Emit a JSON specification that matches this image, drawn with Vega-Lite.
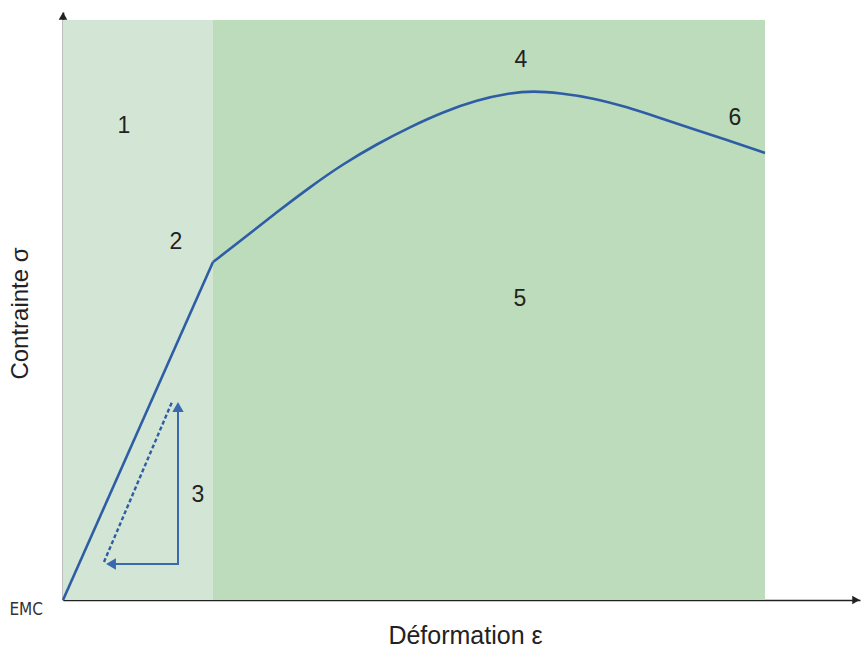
{
  "$schema": "https://vega.github.io/schema/vega-lite/v6.json",
  "width": 797,
  "height": 588,
  "autosize": {"type": "none"},
  "padding": {"left": 63, "top": 12, "right": 2, "bottom": 56},
  "background": "white",
  "config": {"view": {"stroke": null}},
  "encoding": {
    "x": {"type": "quantitative", "scale": {"domain": [0, 797], "nice": false, "zero": false}},
    "y": {"type": "quantitative", "scale": {"domain": [0, 588], "nice": false, "zero": false}}
  },
  "layer": [
    {
      "data": {"values": [
        {"x0": 0, "x1": 150, "y0": 0, "y1": 580, "zone": "light"},
        {"x0": 150, "x1": 702, "y0": 0, "y1": 580, "zone": "dark"}
      ]},
      "mark": {"type": "rect"},
      "encoding": {
        "x": {"field": "x0", "type": "quantitative", "axis": {"domain": true, "domainColor": "#222", "domainWidth": 1.6, "ticks": false, "labels": false, "grid": false, "title": "Déformation ε", "titleFont": "Liberation Sans", "titleFontSize": 25, "titleFontWeight": "normal", "titleColor": "#222", "titlePadding": 23, "titleX": 402}},
        "x2": {"field": "x1"},
        "y": {"field": "y0", "type": "quantitative", "axis": {"domain": true, "domainColor": "#222", "domainWidth": 1.6, "ticks": false, "labels": false, "grid": false, "title": "Contrainte σ", "titleFont": "Liberation Sans", "titleFontSize": 24, "titleFontWeight": "normal", "titleColor": "#222", "titlePadding": 31, "titleY": 301}},
        "y2": {"field": "y1"},
        "color": {"field": "zone", "type": "nominal", "scale": {"domain": ["light", "dark"], "range": ["#d3e6d5", "#bddcbb"]}, "legend": null}
      }
    },
    {
      "data": {"values": [{"x": 0, "y": 584}]},
      "mark": {"type": "point", "shape": "triangle-up", "filled": true, "color": "#222", "opacity": 1, "size": 75},
      "encoding": {
        "x": {"field": "x", "type": "quantitative"},
        "y": {"field": "y", "type": "quantitative"}
      }
    },
    {
      "data": {"values": [{"x": 793, "y": 0}]},
      "mark": {"type": "point", "shape": "triangle-right", "filled": true, "color": "#222", "opacity": 1, "size": 75},
      "encoding": {
        "x": {"field": "x", "type": "quantitative"},
        "y": {"field": "y", "type": "quantitative"}
      }
    },
    {
      "data": {"values": [
        {"part": "a", "x": 0, "y": 0},
        {"part": "a", "x": 150, "y": 338},
        {"part": "b", "x": 150, "y": 338},
        {"part": "b", "x": 180, "y": 361},
        {"part": "b", "x": 214, "y": 388},
        {"part": "b", "x": 247, "y": 413},
        {"part": "b", "x": 280, "y": 436},
        {"part": "b", "x": 314, "y": 456},
        {"part": "b", "x": 347, "y": 473},
        {"part": "b", "x": 380, "y": 488},
        {"part": "b", "x": 414, "y": 500},
        {"part": "b", "x": 447, "y": 507},
        {"part": "b", "x": 470, "y": 509},
        {"part": "b", "x": 497, "y": 507},
        {"part": "b", "x": 530, "y": 502},
        {"part": "b", "x": 564, "y": 493},
        {"part": "b", "x": 597, "y": 482},
        {"part": "b", "x": 630, "y": 471},
        {"part": "b", "x": 664, "y": 460},
        {"part": "b", "x": 702, "y": 447}
      ]},
      "mark": {"type": "line", "interpolate": "basis", "color": "#2e5da6", "strokeWidth": 2.6},
      "encoding": {
        "x": {"field": "x", "type": "quantitative"},
        "y": {"field": "y", "type": "quantitative"},
        "detail": {"field": "part", "type": "nominal"}
      }
    },
    {
      "data": {"values": [
        {"x": 41, "y": 38},
        {"x": 109, "y": 198}
      ]},
      "mark": {"type": "line", "color": "#2e5da6", "strokeWidth": 2.4, "strokeDash": [4, 2.5]},
      "encoding": {
        "x": {"field": "x", "type": "quantitative"},
        "y": {"field": "y", "type": "quantitative"}
      }
    },
    {
      "data": {"values": [
        {"x": 52, "y": 36, "o": 1},
        {"x": 115, "y": 36, "o": 2},
        {"x": 115, "y": 190, "o": 3}
      ]},
      "mark": {"type": "line", "color": "#3a69b0", "strokeWidth": 2},
      "encoding": {
        "x": {"field": "x", "type": "quantitative"},
        "y": {"field": "y", "type": "quantitative"},
        "order": {"field": "o", "type": "quantitative"}
      }
    },
    {
      "data": {"values": [{"x": 48, "y": 36}]},
      "mark": {"type": "point", "shape": "triangle-left", "filled": true, "color": "#3a69b0", "opacity": 1, "size": 130},
      "encoding": {
        "x": {"field": "x", "type": "quantitative"},
        "y": {"field": "y", "type": "quantitative"}
      }
    },
    {
      "data": {"values": [{"x": 115, "y": 193}]},
      "mark": {"type": "point", "shape": "triangle-up", "filled": true, "color": "#3a69b0", "opacity": 1, "size": 130},
      "encoding": {
        "x": {"field": "x", "type": "quantitative"},
        "y": {"field": "y", "type": "quantitative"}
      }
    },
    {
      "data": {"values": [
        {"x": 61, "y": 474, "t": "1"},
        {"x": 113, "y": 358, "t": "2"},
        {"x": 135, "y": 105, "t": "3"},
        {"x": 458, "y": 540, "t": "4"},
        {"x": 457, "y": 301, "t": "5"},
        {"x": 672, "y": 482, "t": "6"}
      ]},
      "mark": {"type": "text", "font": "Liberation Sans", "fontSize": 23, "color": "#222", "align": "center", "baseline": "middle"},
      "encoding": {
        "x": {"field": "x", "type": "quantitative"},
        "y": {"field": "y", "type": "quantitative"},
        "text": {"field": "t", "type": "nominal"}
      }
    },
    {
      "data": {"values": [{"x": -20, "y": -10, "t": "EMC"}]},
      "mark": {"type": "text", "font": "DejaVu Sans Condensed", "fontSize": 17, "color": "#333", "align": "right", "baseline": "middle"},
      "encoding": {
        "x": {"field": "x", "type": "quantitative"},
        "y": {"field": "y", "type": "quantitative"},
        "text": {"field": "t", "type": "nominal"}
      }
    }
  ]
}
